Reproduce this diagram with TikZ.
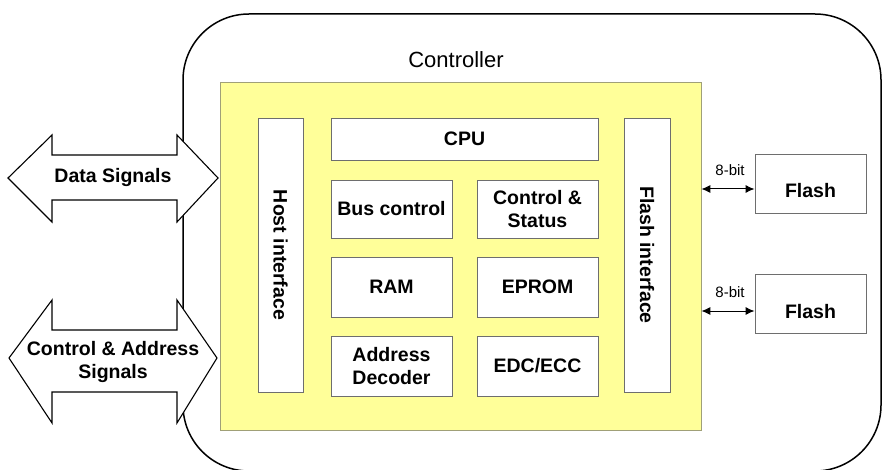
\documentclass[tikz,border=0pt]{standalone}
\usepackage{fontspec}
\setmainfont{Liberation Sans}
\usetikzlibrary{arrows.meta}
\definecolor{chipyellow}{RGB}{255,255,153}
\definecolor{boxgray}{RGB}{110,110,110}
\definecolor{yellowedge}{RGB}{160,160,120}
\newcommand\lblfont{\fontsize{19.5}{23.5}\selectfont\bfseries}
\begin{document}
\begin{tikzpicture}[x=1pt,y=-1pt,
  blk/.style={draw=boxgray, fill=white, line width=0.9pt, font=\lblfont, align=center, inner sep=0pt},
  bigarrow/.style={draw=black, fill=white, line width=1.1pt, line join=miter},
  bus/.style={{Latex[length=9pt,width=8pt]}-{Latex[length=9pt,width=8pt]}, line width=1pt},
  lbl8/.style={font=\fontsize{15}{17}\selectfont, inner sep=0pt}]
\clip (0,0) rectangle (882,470);
\fill[white] (0,0) rectangle (882,470);
% outer controller outline
\draw[line width=1.5pt, rounded corners=66pt] (183,14) rectangle (881,471);
\node[font=\fontsize{22}{26}\selectfont] (ctrl) at (456,60) {Controller};
% yellow chip area
\node[draw=yellowedge, fill=chipyellow, line width=0.8pt, minimum width=481pt, minimum height=348pt, inner sep=0pt] (chip) at (460.5,256) {};
% inner blocks
\node[blk, rotate=-90, minimum width=274pt, minimum height=45pt] (host) at (280.5,255) {Host interface};
\node[blk, rotate=-90, minimum width=274pt, minimum height=46pt] (fif) at (647,255) {Flash interface};
\node[blk, minimum width=267pt, minimum height=42pt] (cpu) at (464.5,139) {CPU};
\node[blk, minimum width=121pt, minimum height=58pt] (busc) at (391.5,209) {Bus control};
\node[blk, minimum width=121pt, minimum height=58pt] (cst) at (537.5,209) {Control \&\\Status};
\node[blk, minimum width=121pt, minimum height=60pt] (ram) at (391.5,287) {RAM};
\node[blk, minimum width=121pt, minimum height=60pt] (eprom) at (537.5,287) {EPROM};
\node[blk, minimum width=121pt, minimum height=60pt] (adec) at (391.5,366) {Address\\Decoder};
\node[blk, minimum width=121pt, minimum height=60pt] (edc) at (537.5,366) {EDC/ECC};
% flash chips
\node[blk, minimum width=111pt, minimum height=59pt] (f1) at (810.5,183.5) {\raisebox{-14.5pt}[0pt][0pt]{Flash}};
\node[blk, minimum width=111pt, minimum height=59pt] (f2) at (810.5,303.5) {\raisebox{-14.5pt}[0pt][0pt]{Flash}};
\coordinate (b1) at (0,189);
\coordinate (b2) at (0,311);
\draw[bus] (chip.east |- b1) -- (f1.west |- b1);
\draw[bus] (chip.east |- b2) -- (f2.west |- b2);
\node[lbl8] (l1) at (730,170) {8-bit};
\node[lbl8] (l2) at (730,292) {8-bit};
% big double arrows
\draw[bigarrow] (8,178) -- (52,135) -- (52,155) -- (177,155) -- (177,135) -- (218,178)
  -- (177,222) -- (177,200) -- (52,200) -- (52,222) -- cycle;
\node[font=\lblfont, inner sep=0pt] (data) at (113,178) {Data Signals};
\draw[bigarrow] (9,358) -- (52,300) -- (52,330) -- (177,330) -- (177,300) -- (217,358)
  -- (177,423) -- (177,392) -- (52,392) -- (52,423) -- cycle;
\node[font=\lblfont, align=center, inner sep=0pt] (cas) at (113,362) {Control \& Address\\Signals};
\end{tikzpicture}
\end{document}
